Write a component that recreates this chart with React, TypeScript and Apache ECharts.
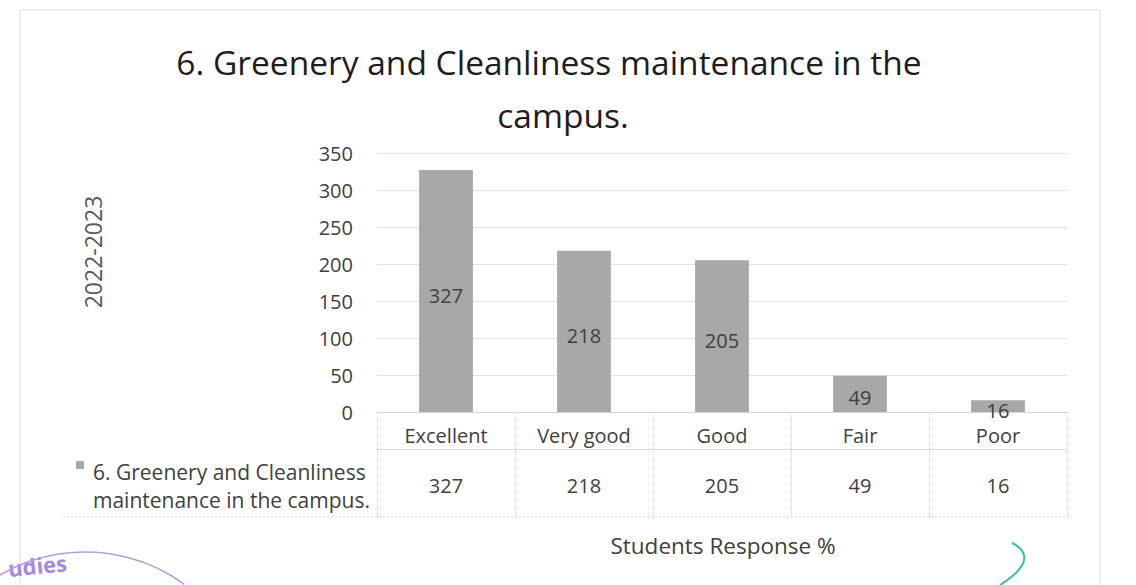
import React, { useEffect, useRef } from "react";
import * as echarts from "echarts";

const titleLines = ["6. Greenery and Cleanliness maintenance in the", "campus."];
const categories = ["Excellent", "Very good", "Good", "Fair", "Poor"];
const values = [327, 218, 205, 49, 16];
const seriesName = "6. Greenery and Cleanliness maintenance in the campus.";
const legendLines = ["6. Greenery and Cleanliness", "maintenance in the campus."];
const yAxisName = "2022-2023";
const xAxisName = "Students Response %";
const yMax = 350;
const yStep = 50;

const FONT = "'Open Sans', 'Noto Sans', sans-serif";
const TXT = "#404040";

export default function App() {
  const ref = useRef<HTMLDivElement>(null);
  useEffect(() => {
    if (!ref.current) return;
    const chart = echarts.init(ref.current, null, { renderer: "svg" });
    const titleStyle = { fontFamily: FONT, fontSize: 33.5, fontWeight: "normal", color: "#1e1e1e" };
    chart.setOption({
      animation: false,
      backgroundColor: "#ffffff",
      textStyle: { fontFamily: FONT },
      title: [
        { text: titleLines[0], left: 544, top: 40, textAlign: "center", textStyle: titleStyle },
        { text: titleLines[1], left: 558, top: 93, textAlign: "center", textStyle: titleStyle },
      ],
      grid: { left: 377, right: 69, top: 153, bottom: 173, containLabel: false },
      xAxis: [
        {
          type: "category",
          data: categories,
          position: "bottom",
          axisLine: { show: true, lineStyle: { color: "#d4d4d4", width: 1 } },
          axisTick: { show: true, length: 105, lineStyle: { color: "#d4d4d4", type: "dotted", width: 1 } },
          axisLabel: { fontFamily: FONT, fontSize: 20, color: TXT, margin: 13 },
        },
        {
          type: "category",
          data: values.map((v) => String(v)),
          position: "bottom",
          offset: 37,
          axisLine: { show: true, lineStyle: { color: "#d4d4d4", width: 1, type: "dotted" } },
          axisTick: { show: false },
          axisLabel: { fontFamily: FONT, fontSize: 20, color: TXT, margin: 26 },
        },
      ],
      yAxis: {
        type: "value",
        min: 0,
        max: yMax,
        interval: yStep,
        axisLine: { show: false },
        axisTick: { show: false },
        axisLabel: { fontFamily: FONT, fontSize: 20, color: TXT, margin: 24 },
        splitLine: { lineStyle: { color: "#e2e2e2", width: 1 } },
      },
      series: [
        {
          name: seriesName,
          type: "bar",
          xAxisIndex: 0,
          data: values,
          barWidth: "39%",
          itemStyle: { color: "#a8a8a8" },
          label: { show: true, position: "inside", offset: [0, 4], fontFamily: FONT, fontSize: 20, color: TXT },
        },
      ],
      graphic: [
        {
          type: "rect",
          shape: { x: 20, y: 10, width: 1080, height: 600 },
          style: { fill: "none", stroke: "#dcdcdc", lineWidth: 1 },
          silent: true,
        },
        {
          type: "line",
          shape: { x1: 63, y1: 517, x2: 1067, y2: 517 },
          style: { stroke: "#d4d4d4", lineWidth: 1, lineDash: [2, 2] },
        },
        {
          type: "rect",
          shape: { x: 76, y: 461, width: 8, height: 8 },
          style: { fill: "#a8a8a8" },
        },
        {
          type: "text",
          x: 93,
          y: 486,
          style: {
            text: legendLines.join("\n"),
            fontFamily: FONT,
            fontSize: 21,
            lineHeight: 28,
            fill: TXT,
            align: "left",
            verticalAlign: "middle",
          },
        },
        {
          type: "text",
          x: 93,
          y: 252,
          rotation: Math.PI / 2,
          style: {
            text: yAxisName,
            fontFamily: FONT,
            fontSize: 23,
            fill: "#595959",
            align: "center",
            verticalAlign: "middle",
          },
        },
        {
          type: "text",
          x: 723,
          y: 545,
          style: {
            text: xAxisName,
            fontFamily: FONT,
            fontSize: 22.5,
            fill: TXT,
            align: "center",
            verticalAlign: "middle",
          },
        },
        {
          type: "text",
          x: 8,
          y: 568,
          rotation: 0.1,
          style: { text: "udies", fontFamily: FONT, fontSize: 22, fontWeight: "bold", fill: "#a48ad8", align: "left", verticalAlign: "middle" },
        },
        {
          type: "arc",
          shape: { cx: 85, cy: 721, r: 169, startAngle: Math.PI * 1.2, endAngle: Math.PI * 1.7 },
          style: { stroke: "#b49ce0", lineWidth: 1.5, fill: "none" },
        },
        {
          type: "bezierCurve",
          shape: { x1: 1012, y1: 543, cpx1: 1030, cpy1: 552, cpx2: 1030, cpy2: 566, x2: 1000, y2: 585 },
          style: { stroke: "#3cbf9f", lineWidth: 2, fill: "none" },
        },
      ],
    });
    return () => chart.dispose();
  }, []);
  return <div ref={ref} style={{ position: "absolute", left: 0, top: 0, width: 1136, height: 585 }} />;
}
